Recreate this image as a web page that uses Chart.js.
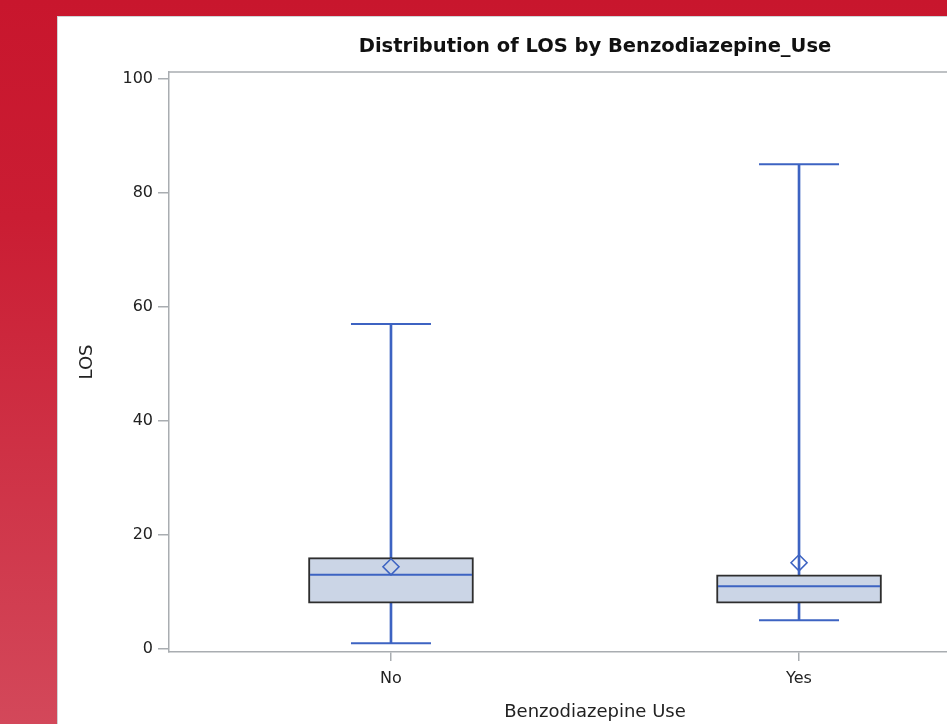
<!DOCTYPE html>
<html>
<head>
<meta charset="utf-8">
<script src="https://cdn.jsdelivr.net/npm/chart.js@4.4.0/dist/chart.umd.min.js"></script>
<style>
  html, body { margin: 0; padding: 0; width: 947px; height: 724px; overflow: hidden; }
  body { position: relative; background: linear-gradient(to bottom, #c8162d 0%, #ca1d33 30%, #d3485a 100%); }
  #panel { position: absolute; left: 57px; top: 16px; width: 1100px; height: 720px; background: #fff;
           border-left: 1px solid #cfd3d6; border-top: 1px solid #cfd3d6; }
  #wrap { position: absolute; left: 0; top: 0; width: 1000px; height: 707px; }
</style>
</head>
<body>
<div id="panel"><div id="wrap"><canvas id="chart"></canvas></div></div>
<script>
// box plot summary per group
const groups = ['No', 'Yes'];
const groupPos = [0, 1];
const whiskerLow = [1, 5];
const q1 = [8, 8];
const median = [13, 11];
const q3 = [16, 13];
const whiskerHigh = [57, 85];
const means = [14.4, 15.1];
const yTicks = [0, 20, 40, 60, 80, 100];

const blue = '#3d63c2';
const axisGray = '#a9adb1';
const textColor = '#222';
Chart.defaults.font.family = '"DejaVu Sans", sans-serif';

function points(vals) {
    return vals.map((v, i) => ({ x: groupPos[i], y: v }));
}
function ranges(lo, hi) {
    return lo.map((v, i) => ({ x: groupPos[i], y: [v, hi[i]] }));
}

// top + right edge of the plot frame
const frame = {
    id: 'frame',
    beforeDatasetsDraw(chart) {
        const { ctx, chartArea: a } = chart;
        ctx.save();
        ctx.strokeStyle = axisGray;
        ctx.lineWidth = 1.5;
        ctx.beginPath();
        ctx.moveTo(a.left, a.top);
        ctx.lineTo(a.right, a.top);
        ctx.lineTo(a.right, a.bottom);
        ctx.stroke();
        ctx.restore();
    }
};

function marker(data, style, radius, width) {
    return {
        type: 'line',
        xAxisID: 'x',
        data: data,
        showLine: false,
        pointStyle: style,
        pointRadius: radius,
        pointHoverRadius: radius,
        pointBorderColor: blue,
        pointBackgroundColor: 'rgba(0,0,0,0)',
        pointBorderWidth: width
    };
}

new Chart(document.getElementById('chart'), {
    type: 'bar',
    data: {
        datasets: [
            // first dataset is drawn on top
            marker(points(means), 'rectRot', 8, 1.6),
            marker(points(median), 'line', 81, 2),
            marker(points(whiskerHigh), 'line', 40, 2),
            marker(points(whiskerLow), 'line', 40, 2),
            {
                type: 'bar',
                xAxisID: 'x',
                data: ranges(q1, q3),
                backgroundColor: '#cbd5e6',
                borderColor: '#2e2e2e',
                borderWidth: 2,
                borderSkipped: false,
                barThickness: 165,
                grouped: false
            },
            {
                type: 'bar',
                xAxisID: 'x',
                data: ranges(q3, whiskerHigh),
                backgroundColor: blue,
                barThickness: 2,
                grouped: false
            },
            {
                type: 'bar',
                xAxisID: 'x',
                data: ranges(whiskerLow, q1),
                backgroundColor: blue,
                barThickness: 2,
                grouped: false
            }
        ]
    },
    options: {
        responsive: true,
        maintainAspectRatio: false,
        animation: false,
        events: [],
        layout: { autoPadding: false, padding: { left: 0, right: 37, top: 0, bottom: 0 } },
        plugins: {
            legend: { display: false },
            tooltip: { enabled: false },
            title: { display: false }
        },
        scales: {
            x: {
                type: 'linear',
                offset: false,
                min: -0.544,
                max: 1.544,
                afterBuildTicks: (s) => { s.ticks = groupPos.map(v => ({ value: v })); },
                afterFit: (s) => { s.height = 72; },
                ticks: {
                    callback: (v) => groups[groupPos.indexOf(v)] ?? '',
                    color: textColor,
                    font: { size: 16 },
                    padding: 8,
                    maxRotation: 0,
                    autoSkip: false
                },
                grid: { offset: false, drawOnChartArea: false, tickLength: 9, color: axisGray, lineWidth: 1.5 },
                border: { color: axisGray, width: 1.5 },
                title: {
                    display: true,
                    text: 'Benzodiazepine Use',
                    color: textColor,
                    font: { size: 18 },
                    padding: { top: 0, bottom: 1 }
                }
            },
            // top axis only carries the chart title, centred over the plot
            x2: {
                type: 'linear',
                position: 'top',
                offset: false,
                min: -0.544,
                max: 1.544,
                afterFit: (s) => { s.height = 55; },
                ticks: { display: false },
                grid: { display: false },
                border: { display: false },
                title: {
                    display: true,
                    text: 'Distribution of LOS by Benzodiazepine_Use',
                    color: '#111',
                    font: { size: 19.5, weight: 'bold' },
                    padding: { top: 18, bottom: 0 }
                }
            },
            y: {
                min: -0.55,
                max: 101.2,
                afterBuildTicks: (s) => { s.ticks = yTicks.map(v => ({ value: v })); },
                afterFit: (s) => { s.width = 111; },
                ticks: { color: textColor, font: { size: 16 }, padding: 5 },
                grid: { drawOnChartArea: false, tickLength: 11, color: axisGray, lineWidth: 1.5 },
                border: { color: axisGray, width: 1.5 },
                title: {
                    display: true,
                    text: 'LOS',
                    color: textColor,
                    font: { size: 18 },
                    padding: { top: 19, bottom: 0 }
                }
            }
        }
    },
    plugins: [frame]
});
</script>
</body>
</html>
